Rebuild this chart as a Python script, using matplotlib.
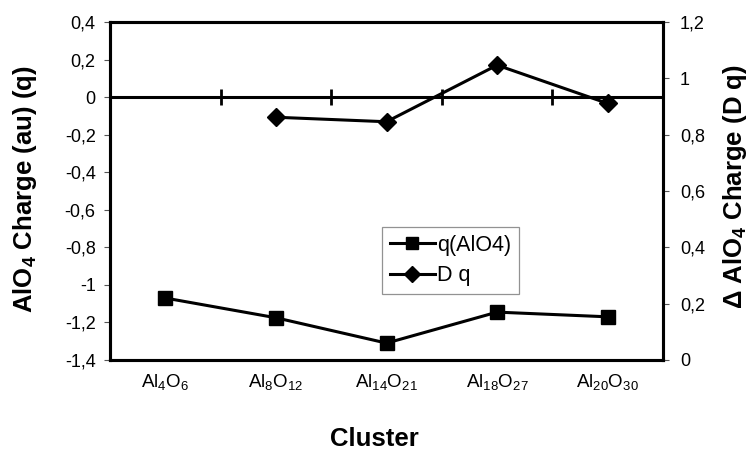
import matplotlib
matplotlib.use("Agg")
import matplotlib.pyplot as plt
from matplotlib.ticker import FuncFormatter, FixedLocator

plt.rcParams['font.family'] = ['Liberation Sans', 'DejaVu Sans']
plt.rcParams['mathtext.default'] = 'regular'

categories = ["Al$_4$O$_6$", "Al$_8$O$_{12}$", "Al$_{14}$O$_{21}$", "Al$_{18}$O$_{27}$", "Al$_{20}$O$_{30}$"]
q_alo4 = [-1.07, -1.175, -1.31, -1.145, -1.17]
dq_cats = [1, 2, 3, 4]
dq = [0.862, 0.846, 1.047, 0.911]
left_ticks = [0.4, 0.2, 0, -0.2, -0.4, -0.6, -0.8, -1, -1.2, -1.4]
right_ticks = [0, 0.2, 0.4, 0.6, 0.8, 1, 1.2]

def comma(v, pos=None):
    s = ('%.1f' % v).rstrip('0').rstrip('.')
    if s in ('-0', ''):
        s = '0'
    return s.replace('.', ',')

fig = plt.figure(figsize=(7.49, 4.5), dpi=100)
ax = fig.add_axes([0.1469, 0.2, 0.7383, 0.751])
x = list(range(len(categories)))

ax.set_xlim(-0.5, len(categories) - 0.5)
ax.set_ylim(-1.4, 0.4)
ax.yaxis.set_major_locator(FixedLocator(left_ticks))
ax.yaxis.set_major_formatter(FuncFormatter(comma))
ax.tick_params(axis='y', direction='out', length=4.3, width=0.8, color='#555555', labelsize=13, pad=6)
ax.set_xticks(x)
ax.set_xticklabels(categories, fontsize=13.5)
ax.tick_params(axis='x', length=0, pad=9)
for s in ax.spines.values():
    s.set_linewidth(2.2)
    s.set_color('black')

# zero axis line with category boundary ticks
ax.axhline(0, color='black', lw=2.2, zorder=2)
ax.plot([i + 0.5 for i in range(len(categories) - 1)], [0] * (len(categories) - 1),
        linestyle='none', marker='|', markersize=12, markeredgewidth=2, color='black', zorder=3)

ax2 = ax.twinx()
ax2.set_ylim(0, 1.2)
ax2.yaxis.set_major_locator(FixedLocator(right_ticks))
ax2.yaxis.set_major_formatter(FuncFormatter(comma))
ax2.tick_params(axis='y', direction='out', length=4.3, width=0.8, color='#555555', labelsize=13, pad=8)
for s in ax2.spines.values():
    s.set_linewidth(2.2)

l1, = ax.plot(x, q_alo4, color='black', lw=2.2, marker='s', markersize=9.6, label='q(AlO4)', zorder=4)
l2, = ax2.plot(dq_cats, dq, color='black', lw=2.2, marker='D', markersize=9, label='D q', zorder=4)

leg = ax2.legend(handles=[l1, l2], loc='upper left', bbox_to_anchor=(0.492, 0.393), borderaxespad=0,
                 fontsize=15.5, frameon=True, fancybox=False, edgecolor='#777777', borderpad=0.35,
                 handlelength=2.1, handletextpad=0.1, labelspacing=0.45, markerscale=0.85)
leg.get_frame().set_linewidth(0.9)

fig.text(0.0334, 0.58, "AlO$_4$ Charge (au) (q)", rotation=90, ha='center', va='center',
         fontsize=18.5, fontweight='bold')
fig.text(0.981, 0.5856, "Δ AlO$_4$ Charge (D q)", rotation=90, ha='center', va='center',
         fontsize=18.5, fontweight='bold')
fig.text(0.5, 0.0244, "Cluster", ha='center', va='center', fontsize=18.5, fontweight='bold')

fig.savefig("out.png", dpi=100)
